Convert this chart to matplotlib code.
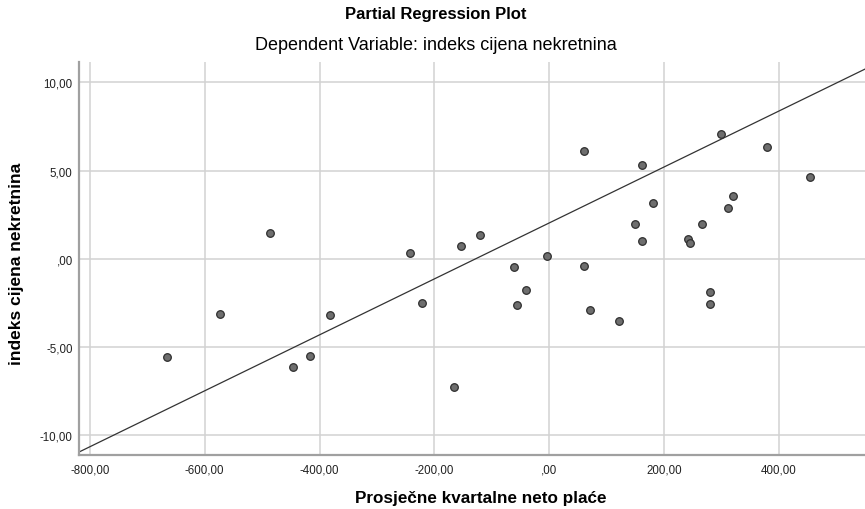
import numpy as np
import matplotlib
matplotlib.use("Agg")
import matplotlib.pyplot as plt
from matplotlib.ticker import FuncFormatter

plt.rcParams['font.family'] = ['Liberation Sans', 'DejaVu Sans']

# partial residuals
placa = [-666, -572.6, -486, -447, -416, -382, -242.7, -220.7, -165.5, -153.3,
         -120, -61.6, -55.7, -40, -3, 59.8, 61, 71.4, 120.8, 149.2,
         160.8, 160.8, 181.2, 241.5, 245.6, 265.3, 279.3, 280.5, 299.7, 310.7,
         320.6, 379.3, 454.7]
indeks = [-5.59, -3.13, 1.47, -6.14, -5.52, -3.21, 0.34, -2.49, -7.27, 0.72,
          1.33, -0.45, -2.64, -1.79, 0.13, -0.40, 6.09, -2.89, -3.55, 1.95,
          5.33, 1.00, 3.17, 1.12, 0.87, 1.97, -2.57, -1.91, 7.09, 2.87,
          3.57, 6.33, 4.65]

# fit line
intercept = 2.03
slope = 0.01585

x_ticks = [-800, -600, -400, -200, 0, 200, 400]
y_ticks = [-10, -5, 0, 5, 10]


def spss_fmt(v, pos=None):
    s = f"{v:.2f}".replace(".", ",")
    if s.startswith("0,"):
        s = s[1:]
    if s.startswith("-0,"):
        s = "-" + s[2:]
    return s


fig = plt.figure(figsize=(8.65, 5.10), dpi=100)
ax = fig.add_axes([0.0913, 0.1065, 0.9087, 0.77])

xlim = (-819, 550)
ylim = (-11.1, 11.15)
ax.set_xlim(xlim)
ax.set_ylim(ylim)

ax.set_xticks(x_ticks)
ax.set_yticks(y_ticks)
ax.xaxis.set_major_formatter(FuncFormatter(spss_fmt))
ax.yaxis.set_major_formatter(FuncFormatter(spss_fmt))
ax.grid(True, color="#d2d2d2", linewidth=1.1)
ax.set_axisbelow(True)
ax.tick_params(length=0, labelsize=8.3, colors="#222222")
ax.tick_params(axis="y", pad=4.5)
ax.tick_params(axis="x", pad=6)

for s in ["top", "right"]:
    ax.spines[s].set_visible(False)
for s in ["left", "bottom"]:
    ax.spines[s].set_color("#a0a0a0")
    ax.spines[s].set_linewidth(1.6)

lx = np.array(xlim)
ax.plot(lx, intercept + slope * lx, color="#333333", linewidth=0.9, zorder=2)

ax.scatter(placa, indeks, s=30, facecolor="#6e6e6e", edgecolor="#2e2e2e",
           linewidth=0.9, zorder=3)

fig.text(436 / 865, 1 - 15 / 510, "Partial Regression Plot", ha="center",
         va="center", fontsize=12, fontweight="bold")
fig.text(436 / 865, 1 - 45 / 510, "Dependent Variable: indeks cijena nekretnina",
         ha="center", va="center", fontsize=13)
fig.text(481 / 865, 1 - 499 / 510, "Prosječne kvartalne neto plaće",
         ha="center", va="center", fontsize=12.3, fontweight="bold")
fig.text(17 / 865, 1 - 264 / 510, "indeks cijena nekretnina", rotation=90,
         ha="center", va="center", fontsize=12.5, fontweight="bold")

fig.savefig("out.png", dpi=100)
